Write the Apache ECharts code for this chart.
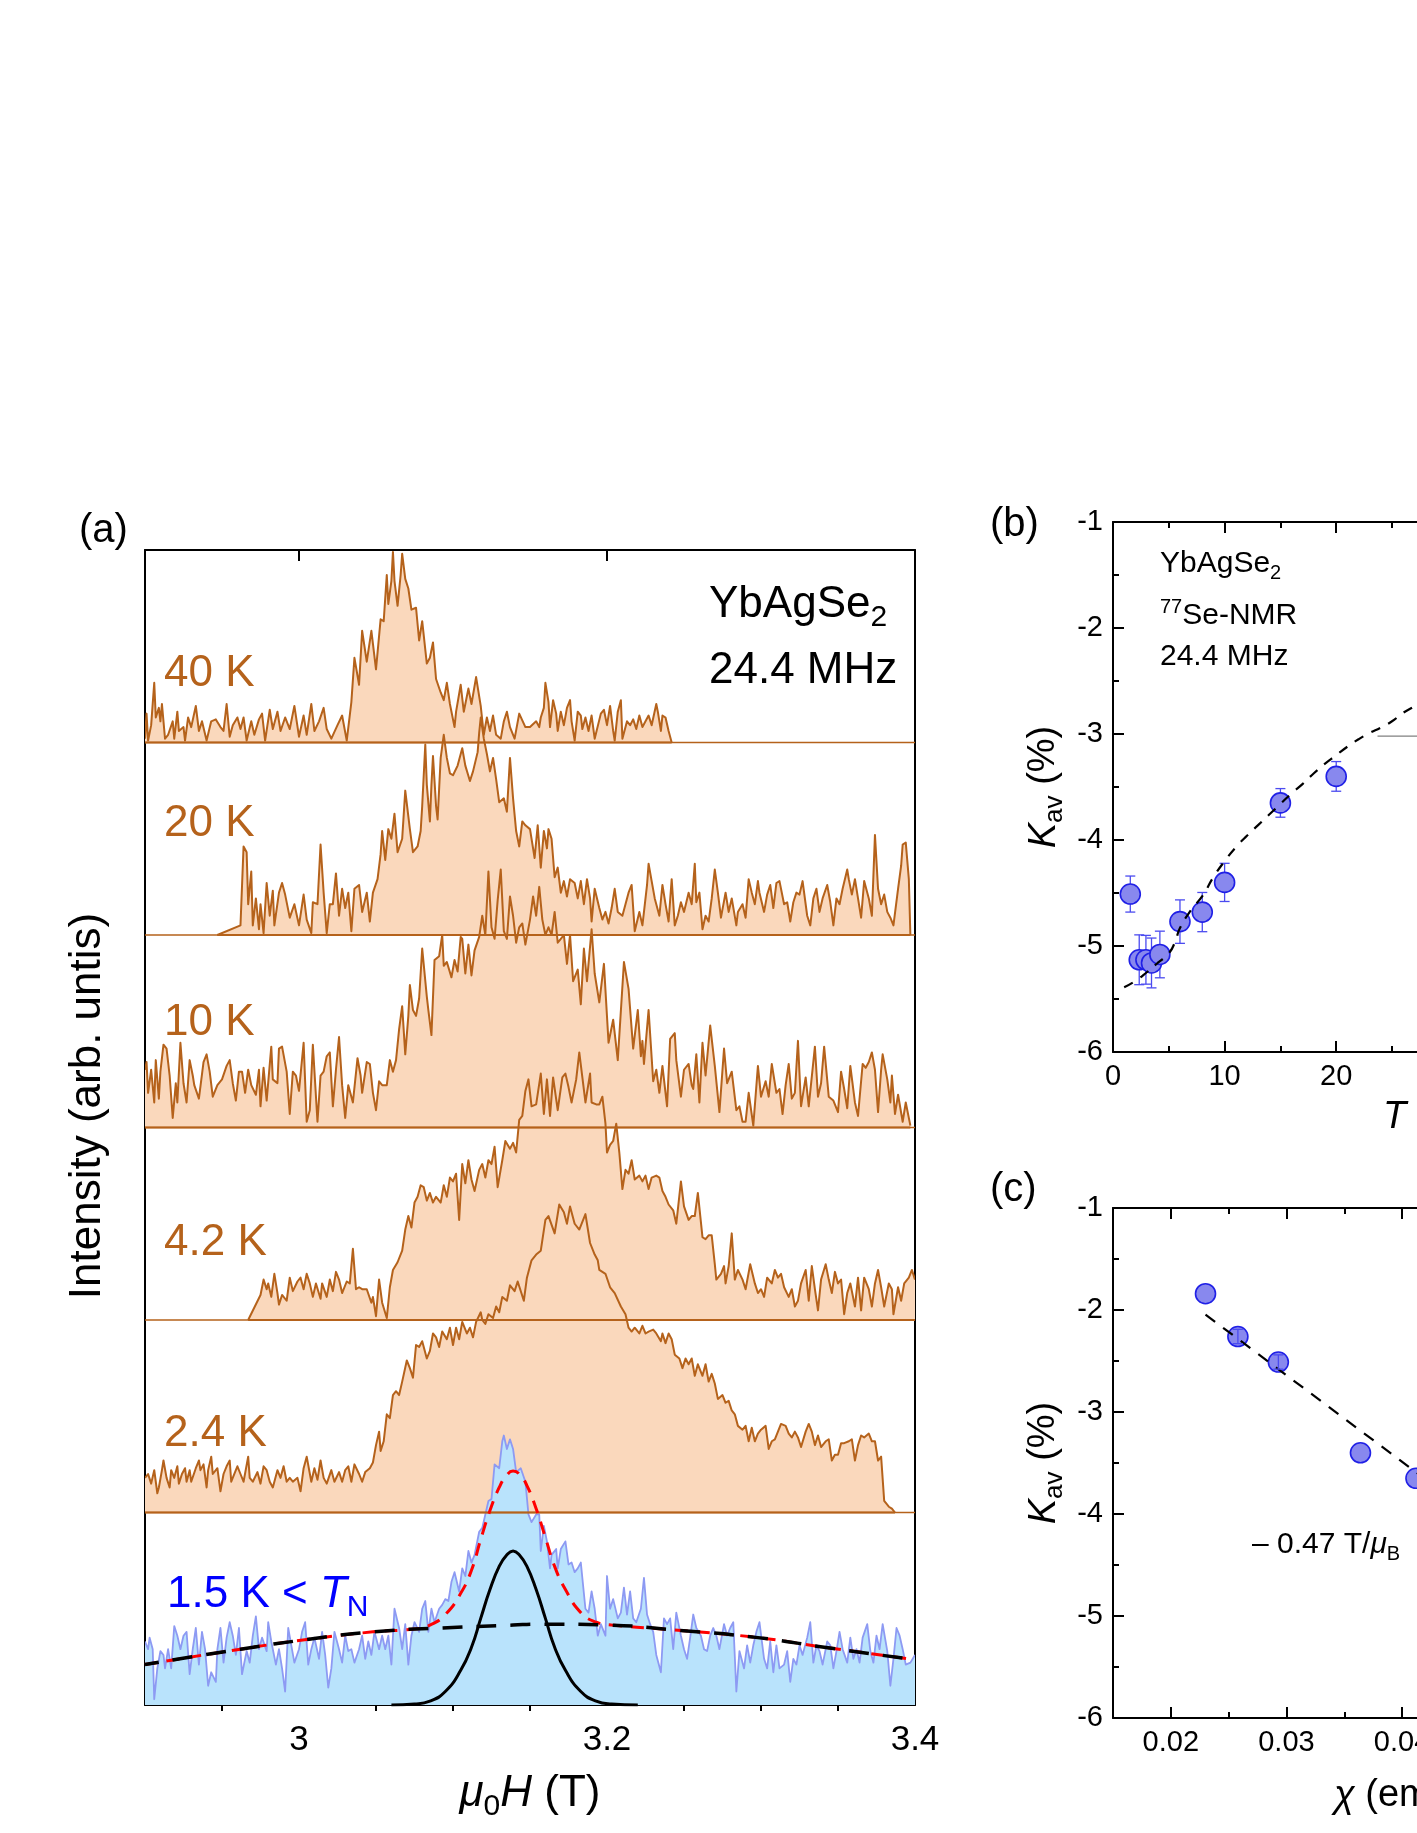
<!DOCTYPE html>
<html><head><meta charset="utf-8">
<script src="https://cdn.jsdelivr.net/npm/echarts@6/dist/echarts.min.js"></script>
<style>html,body{margin:0;padding:0;background:#fff}#c{width:1417px;height:1833px}</style>
</head><body><div id="c"></div><script>
// ---------------- Panel (a): 77Se-NMR spectra, [field (T), intensity (arb. u., band = 100)] ----------------
const spec40K = [[2.900,2],[2.901,15],[2.902,1],[2.904,9],[2.906,31],[2.907,13],[2.909,18],[2.910,11],[2.911,20],[2.913,2],[2.915,4],[2.918,11],[2.919,2],[2.921,16],[2.922,6],[2.925,8],[2.926,1],[2.928,13],[2.930,8],[2.933,19],[2.935,6],[2.937,11],[2.940,1],[2.943,11],[2.946,12],[2.949,8],[2.951,6],[2.953,20],[2.955,3],[2.957,9],[2.960,13],[2.962,7],[2.964,13],[2.966,1],[2.969,11],[2.971,4],[2.974,12],[2.976,15],[2.978,1],[2.981,17],[2.983,7],[2.986,16],[2.988,6],[2.991,13],[2.994,7],[2.997,19],[3.000,3],[3.003,14],[3.005,4],[3.008,20],[3.010,6],[3.013,11],[3.016,18],[3.018,7],[3.021,2],[3.025,9],[3.028,14],[3.031,1],[3.034,21],[3.036,44],[3.039,30],[3.041,58],[3.044,42],[3.047,58],[3.050,38],[3.053,64],[3.055,63],[3.057,87],[3.058,72],[3.060,84],[3.061,99],[3.062,84],[3.064,71],[3.066,87],[3.067,98],[3.069,85],[3.071,80],[3.073,69],[3.076,70],[3.078,53],[3.080,63],[3.083,41],[3.085,44],[3.087,52],[3.089,33],[3.092,26],[3.094,22],[3.096,31],[3.098,20],[3.101,8],[3.102,16],[3.105,30],[3.107,16],[3.110,28],[3.112,20],[3.115,34],[3.118,19],[3.120,4],[3.122,13],[3.124,6],[3.126,14],[3.128,4],[3.131,2],[3.133,11],[3.135,16],[3.137,8],[3.140,2],[3.143,15],[3.147,8],[3.150,8],[3.154,11],[3.156,8],[3.157,13],[3.159,18],[3.160,31],[3.162,21],[3.163,8],[3.165,22],[3.167,15],[3.168,6],[3.170,16],[3.172,9],[3.174,18],[3.176,22],[3.177,11],[3.179,1],[3.181,16],[3.183,14],[3.184,7],[3.186,13],[3.188,6],[3.190,14],[3.192,2],[3.196,15],[3.198,17],[3.200,9],[3.202,19],[3.204,6],[3.205,1],[3.207,16],[3.209,22],[3.210,2],[3.213,11],[3.215,9],[3.217,12],[3.219,7],[3.221,14],[3.223,8],[3.225,11],[3.227,14],[3.229,9],[3.232,20],[3.233,16],[3.235,6],[3.236,14],[3.238,13],[3.240,6],[3.242,0]];

const spec20K = [[2.947,0],[2.962,5],[2.964,46],[2.966,43],[2.967,16],[2.969,33],[2.970,5],[2.972,19],[2.974,3],[2.975,16],[2.977,1],[2.979,27],[2.981,10],[2.983,23],[2.984,5],[2.987,22],[2.989,27],[2.991,21],[2.994,9],[2.997,16],[3.000,5],[3.003,21],[3.005,8],[3.008,1],[3.009,17],[3.012,16],[3.014,47],[3.016,22],[3.018,1],[3.020,16],[3.022,16],[3.024,32],[3.026,10],[3.028,24],[3.030,14],[3.032,22],[3.034,2],[3.036,24],[3.039,26],[3.041,12],[3.044,22],[3.046,7],[3.048,22],[3.051,29],[3.053,42],[3.054,54],[3.056,39],[3.058,55],[3.060,50],[3.062,63],[3.064,43],[3.067,50],[3.069,75],[3.072,55],[3.074,43],[3.077,46],[3.079,54],[3.080,67],[3.082,99],[3.083,78],[3.085,59],[3.086,78],[3.087,93],[3.089,67],[3.090,60],[3.092,92],[3.094,104],[3.096,92],[3.098,84],[3.100,83],[3.103,88],[3.106,97],[3.108,88],[3.111,80],[3.113,85],[3.116,95],[3.117,105],[3.118,113],[3.120,102],[3.122,94],[3.124,85],[3.126,92],[3.128,81],[3.130,69],[3.133,71],[3.135,64],[3.137,92],[3.139,71],[3.141,54],[3.143,46],[3.145,59],[3.147,57],[3.150,55],[3.153,40],[3.155,57],[3.157,35],[3.159,54],[3.161,45],[3.162,55],[3.164,50],[3.166,30],[3.168,35],[3.170,22],[3.172,28],[3.174,20],[3.176,29],[3.179,27],[3.181,19],[3.183,28],[3.185,16],[3.187,29],[3.189,19],[3.190,7],[3.192,24],[3.195,14],[3.197,8],[3.199,12],[3.201,6],[3.203,14],[3.205,24],[3.207,12],[3.210,10],[3.212,16],[3.214,22],[3.216,26],[3.218,2],[3.221,12],[3.223,5],[3.224,12],[3.226,26],[3.227,37],[3.229,28],[3.231,19],[3.234,10],[3.236,26],[3.238,16],[3.240,7],[3.242,29],[3.244,5],[3.246,10],[3.248,17],[3.250,12],[3.253,22],[3.255,16],[3.257,37],[3.258,17],[3.260,22],[3.262,3],[3.264,10],[3.266,7],[3.268,19],[3.270,34],[3.272,22],[3.274,9],[3.277,22],[3.279,12],[3.281,19],[3.284,5],[3.285,12],[3.288,16],[3.290,9],[3.292,29],[3.294,22],[3.296,16],[3.298,28],[3.299,22],[3.302,12],[3.304,21],[3.306,26],[3.308,14],[3.310,27],[3.312,28],[3.315,16],[3.317,17],[3.319,7],[3.321,17],[3.323,22],[3.325,21],[3.327,28],[3.330,10],[3.332,5],[3.334,19],[3.336,24],[3.338,12],[3.340,19],[3.343,26],[3.345,17],[3.347,5],[3.349,19],[3.351,16],[3.353,24],[3.356,34],[3.357,29],[3.359,21],[3.361,29],[3.363,19],[3.365,9],[3.367,28],[3.370,19],[3.372,10],[3.374,52],[3.376,24],[3.378,16],[3.380,21],[3.382,12],[3.384,9],[3.386,5],[3.389,24],[3.391,36],[3.392,47],[3.394,48],[3.396,29],[3.397,0]];

const spec10K = [[2.900,30],[2.901,34],[2.902,18],[2.904,30],[2.906,13],[2.907,35],[2.909,15],[2.910,29],[2.912,43],[2.914,41],[2.916,27],[2.918,5],[2.920,23],[2.921,13],[2.923,44],[2.925,23],[2.927,13],[2.929,35],[2.931,27],[2.932,22],[2.935,15],[2.938,34],[2.940,38],[2.942,29],[2.944,16],[2.947,22],[2.950,25],[2.953,32],[2.955,35],[2.957,23],[2.959,14],[2.961,29],[2.963,29],[2.965,18],[2.967,30],[2.969,22],[2.972,17],[2.974,30],[2.975,11],[2.977,31],[2.979,14],[2.982,42],[2.983,25],[2.986,23],[2.987,41],[2.989,42],[2.992,29],[2.994,7],[2.996,29],[2.998,27],[3.000,19],[3.003,44],[3.005,3],[3.007,9],[3.009,43],[3.012,3],[3.014,27],[3.016,29],[3.018,37],[3.020,39],[3.022,11],[3.024,30],[3.026,47],[3.028,22],[3.030,5],[3.032,22],[3.035,13],[3.038,36],[3.040,27],[3.041,18],[3.044,34],[3.046,33],[3.048,18],[3.050,9],[3.052,24],[3.054,22],[3.057,22],[3.059,35],[3.061,29],[3.063,35],[3.065,51],[3.067,63],[3.069,38],[3.071,58],[3.072,74],[3.074,61],[3.076,58],[3.078,67],[3.080,93],[3.083,68],[3.084,61],[3.086,48],[3.088,87],[3.091,89],[3.093,100],[3.094,84],[3.096,86],[3.099,78],[3.101,87],[3.103,81],[3.105,99],[3.106,98],[3.108,80],[3.110,95],[3.112,79],[3.114,92],[3.117,99],[3.119,110],[3.121,100],[3.123,133],[3.125,104],[3.127,98],[3.129,118],[3.131,134],[3.133,102],[3.135,98],[3.137,120],[3.139,110],[3.141,96],[3.143,104],[3.145,106],[3.147,95],[3.150,108],[3.152,120],[3.154,110],[3.156,125],[3.158,108],[3.160,100],[3.162,104],[3.164,100],[3.166,112],[3.168,96],[3.170,98],[3.172,100],[3.174,85],[3.176,100],[3.178,76],[3.181,82],[3.183,64],[3.185,93],[3.187,76],[3.190,103],[3.192,80],[3.195,65],[3.198,85],[3.201,44],[3.204,56],[3.207,35],[3.211,86],[3.214,72],[3.217,41],[3.220,61],[3.222,37],[3.223,45],[3.224,33],[3.227,61],[3.230,24],[3.232,30],[3.234,18],[3.236,32],[3.239,11],[3.241,46],[3.244,49],[3.245,35],[3.248,16],[3.250,30],[3.253,33],[3.255,22],[3.256,20],[3.258,38],[3.260,13],[3.262,44],[3.264,27],[3.267,53],[3.270,32],[3.273,8],[3.276,41],[3.278,23],[3.281,29],[3.284,9],[3.286,11],[3.288,3],[3.290,3],[3.292,18],[3.295,1],[3.298,32],[3.300,16],[3.303,24],[3.305,16],[3.307,33],[3.310,18],[3.312,20],[3.314,7],[3.316,22],[3.318,33],[3.320,15],[3.322,18],[3.324,45],[3.326,11],[3.329,26],[3.331,11],[3.335,42],[3.337,16],[3.339,23],[3.341,42],[3.344,16],[3.347,14],[3.350,8],[3.352,29],[3.354,20],[3.356,10],[3.358,32],[3.361,13],[3.363,6],[3.366,33],[3.368,31],[3.370,34],[3.372,39],[3.374,30],[3.376,8],[3.378,30],[3.379,38],[3.382,25],[3.384,13],[3.385,27],[3.387,7],[3.389,17],[3.392,3],[3.394,13],[3.397,1]];

const spec4p2K = [[2.967,0],[2.975,13],[2.977,21],[2.979,16],[2.980,19],[2.982,12],[2.984,24],[2.986,14],[2.987,8],[2.989,13],[2.992,10],[2.994,22],[2.996,15],[2.999,20],[3.001,22],[3.003,16],[3.005,24],[3.007,19],[3.009,12],[3.011,19],[3.014,11],[3.015,19],[3.018,12],[3.020,21],[3.022,15],[3.024,25],[3.026,21],[3.028,14],[3.031,20],[3.033,19],[3.035,37],[3.037,16],[3.039,17],[3.041,16],[3.044,16],[3.047,9],[3.048,12],[3.050,2],[3.052,21],[3.054,9],[3.057,1],[3.059,17],[3.061,26],[3.064,30],[3.067,36],[3.069,47],[3.071,54],[3.073,48],[3.075,61],[3.077,64],[3.079,70],[3.081,69],[3.083,62],[3.085,66],[3.087,61],[3.089,64],[3.092,61],[3.094,70],[3.096,64],[3.098,74],[3.100,72],[3.102,76],[3.104,52],[3.106,81],[3.108,71],[3.110,83],[3.112,73],[3.114,67],[3.117,78],[3.119,81],[3.121,74],[3.123,83],[3.125,81],[3.127,90],[3.129,69],[3.132,83],[3.134,93],[3.137,89],[3.139,92],[3.141,87],[3.143,104],[3.145,106],[3.147,119],[3.149,125],[3.151,111],[3.154,112],[3.157,128],[3.159,107],[3.161,125],[3.163,106],[3.165,126],[3.168,109],[3.171,126],[3.173,128],[3.175,121],[3.177,113],[3.180,125],[3.182,139],[3.184,126],[3.186,113],[3.189,128],[3.190,113],[3.193,112],[3.195,112],[3.197,116],[3.199,102],[3.200,87],[3.202,91],[3.204,93],[3.206,102],[3.208,87],[3.210,68],[3.212,78],[3.214,76],[3.216,83],[3.218,73],[3.221,75],[3.223,72],[3.225,75],[3.227,68],[3.229,74],[3.232,75],[3.234,74],[3.236,67],[3.238,64],[3.240,60],[3.243,57],[3.245,50],[3.248,72],[3.250,59],[3.253,52],[3.255,54],[3.257,54],[3.259,66],[3.262,43],[3.264,42],[3.266,44],[3.268,44],[3.270,29],[3.271,21],[3.274,24],[3.276,28],[3.277,19],[3.279,28],[3.281,45],[3.283,21],[3.285,26],[3.288,21],[3.290,16],[3.293,29],[3.296,19],[3.298,14],[3.300,16],[3.302,12],[3.304,22],[3.307,19],[3.309,26],[3.311,22],[3.313,24],[3.315,17],[3.318,12],[3.320,16],[3.322,7],[3.324,10],[3.326,19],[3.329,26],[3.331,10],[3.333,28],[3.335,16],[3.337,5],[3.339,21],[3.342,29],[3.344,21],[3.346,14],[3.348,25],[3.350,19],[3.352,21],[3.354,3],[3.356,14],[3.358,19],[3.361,7],[3.363,22],[3.365,5],[3.367,22],[3.370,16],[3.372,7],[3.374,19],[3.376,26],[3.378,17],[3.380,7],[3.383,19],[3.385,16],[3.386,3],[3.389,17],[3.391,10],[3.393,19],[3.396,22],[3.398,26],[3.400,21]];

const spec2p4K = [[2.900,18],[2.902,20],[2.904,15],[2.906,22],[2.908,10],[2.909,13],[2.911,22],[2.912,27],[2.914,18],[2.916,13],[2.917,22],[2.919,18],[2.921,24],[2.922,15],[2.924,20],[2.926,23],[2.927,16],[2.929,22],[2.930,16],[2.933,23],[2.935,27],[2.936,22],[2.938,25],[2.940,13],[2.941,22],[2.943,29],[2.944,20],[2.947,23],[2.949,11],[2.951,20],[2.953,24],[2.955,27],[2.956,16],[2.959,22],[2.960,24],[2.962,20],[2.964,16],[2.967,29],[2.968,18],[2.970,16],[2.973,21],[2.975,15],[2.977,24],[2.979,22],[2.981,16],[2.983,13],[2.986,22],[2.988,18],[2.990,24],[2.992,16],[2.994,18],[2.996,16],[2.999,18],[3.001,11],[3.003,23],[3.005,29],[3.008,16],[3.010,23],[3.012,17],[3.014,27],[3.016,18],[3.018,15],[3.021,22],[3.023,16],[3.026,21],[3.028,16],[3.030,22],[3.032,24],[3.034,16],[3.036,25],[3.039,20],[3.041,16],[3.043,21],[3.046,23],[3.048,26],[3.050,35],[3.052,42],[3.053,32],[3.055,37],[3.057,51],[3.059,49],[3.061,61],[3.063,63],[3.065,61],[3.067,68],[3.070,79],[3.072,75],[3.074,70],[3.076,87],[3.078,86],[3.080,89],[3.083,80],[3.085,84],[3.087,93],[3.089,91],[3.091,86],[3.093,94],[3.096,90],[3.098,96],[3.100,87],[3.102,96],[3.104,90],[3.106,99],[3.109,93],[3.111,96],[3.113,91],[3.115,99],[3.118,104],[3.119,100],[3.121,98],[3.123,103],[3.126,101],[3.128,107],[3.130,104],[3.132,112],[3.135,110],[3.137,118],[3.140,115],[3.142,120],[3.146,110],[3.148,122],[3.151,131],[3.154,134],[3.157,136],[3.160,152],[3.162,154],[3.166,145],[3.169,160],[3.172,156],[3.174,150],[3.176,159],[3.179,150],[3.182,147],[3.186,155],[3.189,140],[3.192,134],[3.194,131],[3.195,126],[3.199,124],[3.202,117],[3.205,114],[3.209,107],[3.212,103],[3.214,96],[3.216,94],[3.218,96],[3.221,93],[3.223,97],[3.225,93],[3.227,94],[3.230,95],[3.232,93],[3.235,89],[3.236,93],[3.238,88],[3.240,93],[3.242,90],[3.244,82],[3.247,80],[3.249,75],[3.251,80],[3.253,77],[3.255,80],[3.257,71],[3.259,77],[3.262,71],[3.264,77],[3.266,68],[3.268,72],[3.270,67],[3.272,59],[3.275,61],[3.277,57],[3.279,58],[3.281,53],[3.283,51],[3.285,45],[3.288,43],[3.290,45],[3.292,37],[3.294,44],[3.296,37],[3.298,41],[3.300,43],[3.303,45],[3.305,33],[3.307,37],[3.309,38],[3.311,42],[3.313,46],[3.316,45],[3.318,41],[3.320,39],[3.322,42],[3.324,39],[3.326,34],[3.329,42],[3.331,46],[3.333,42],[3.335,35],[3.337,40],[3.339,34],[3.342,37],[3.344,38],[3.346,27],[3.348,30],[3.350,30],[3.352,36],[3.354,36],[3.357,37],[3.359,38],[3.361,27],[3.363,35],[3.365,40],[3.367,39],[3.370,41],[3.372,37],[3.374,37],[3.376,27],[3.378,29],[3.380,6],[3.383,3],[3.385,2],[3.387,0]];

const spec1p5K = [[2.900,33],[2.902,29],[2.903,35],[2.905,29],[2.906,3],[2.908,19],[2.910,28],[2.912,26],[2.913,19],[2.915,29],[2.917,19],[2.919,41],[2.921,36],[2.923,29],[2.925,36],[2.927,38],[2.929,16],[2.931,29],[2.933,40],[2.935,21],[2.937,38],[2.939,29],[2.941,10],[2.943,17],[2.946,12],[2.947,29],[2.949,40],[2.951,22],[2.953,35],[2.955,43],[2.957,36],[2.959,26],[2.961,40],[2.963,16],[2.966,28],[2.968,22],[2.970,36],[2.972,46],[2.974,29],[2.976,35],[2.979,28],[2.980,43],[2.982,33],[2.985,21],[2.987,29],[2.989,19],[2.991,7],[2.993,40],[2.995,31],[2.997,22],[3.000,29],[3.002,38],[3.004,43],[3.006,21],[3.008,29],[3.010,35],[3.013,24],[3.015,38],[3.017,26],[3.019,9],[3.021,19],[3.023,38],[3.026,29],[3.028,22],[3.030,36],[3.032,28],[3.034,29],[3.036,22],[3.039,29],[3.041,36],[3.043,24],[3.045,33],[3.047,26],[3.049,38],[3.052,29],[3.054,36],[3.056,29],[3.058,36],[3.060,21],[3.062,50],[3.065,40],[3.067,29],[3.069,42],[3.071,21],[3.073,36],[3.075,43],[3.078,38],[3.080,50],[3.082,54],[3.084,38],[3.086,50],[3.088,43],[3.091,50],[3.093,52],[3.095,55],[3.097,54],[3.099,64],[3.101,69],[3.104,59],[3.106,71],[3.108,67],[3.110,80],[3.112,74],[3.114,78],[3.117,90],[3.119,92],[3.121,99],[3.123,106],[3.125,107],[3.127,125],[3.130,123],[3.132,137],[3.133,140],[3.135,133],[3.137,138],[3.139,133],[3.141,121],[3.144,123],[3.147,116],[3.149,99],[3.151,95],[3.154,99],[3.156,99],[3.157,80],[3.159,93],[3.161,85],[3.163,71],[3.164,78],[3.167,81],[3.168,71],[3.170,81],[3.173,85],[3.175,73],[3.177,74],[3.179,69],[3.181,71],[3.183,74],[3.186,50],[3.188,48],[3.190,59],[3.192,50],[3.194,36],[3.196,42],[3.199,36],[3.200,67],[3.202,50],[3.204,55],[3.207,45],[3.209,48],[3.211,61],[3.213,47],[3.215,59],[3.217,45],[3.219,43],[3.222,50],[3.224,66],[3.226,47],[3.228,42],[3.230,38],[3.232,26],[3.235,17],[3.237,45],[3.239,42],[3.241,45],[3.243,29],[3.245,48],[3.248,36],[3.250,29],[3.252,24],[3.254,35],[3.256,47],[3.258,40],[3.261,36],[3.263,29],[3.265,28],[3.267,36],[3.269,40],[3.271,36],[3.273,29],[3.276,42],[3.278,36],[3.280,40],[3.282,43],[3.284,7],[3.286,28],[3.289,19],[3.291,31],[3.293,22],[3.295,31],[3.297,38],[3.299,43],[3.302,24],[3.304,19],[3.306,33],[3.308,17],[3.310,31],[3.312,19],[3.315,21],[3.317,28],[3.319,12],[3.321,24],[3.323,21],[3.325,31],[3.327,26],[3.330,35],[3.332,43],[3.334,22],[3.336,31],[3.338,28],[3.340,21],[3.343,33],[3.345,31],[3.347,19],[3.349,28],[3.351,38],[3.353,29],[3.356,22],[3.358,35],[3.360,24],[3.362,29],[3.364,22],[3.366,35],[3.369,42],[3.371,28],[3.373,22],[3.375,36],[3.377,29],[3.379,42],[3.382,28],[3.384,10],[3.386,24],[3.388,40],[3.390,36],[3.392,29],[3.394,21],[3.397,22],[3.400,26]];

// fit curves on the 1.5 K spectrum
const fitNarrow = [[3.060,0],[3.075,0.5],[3.085,2],[3.095,7],[3.105,18],[3.112,30],[3.118,45],[3.124,60],[3.130,72],[3.135,78],[3.139,80],[3.143,78],[3.148,72],[3.154,60],[3.160,45],[3.166,30],[3.173,18],[3.183,7],[3.193,2],[3.203,0.5],[3.220,0]];
const fitBroad = [[2.900,21],[2.962,29],[3.005,34],[3.048,38],[3.092,40],[3.139,41.5],[3.154,42],[3.201,41.5],[3.244,39],[3.298,35],[3.341,30],[3.400,23.5]];
const fitSum = [[2.900,21],[2.962,29],[3.005,34],[3.048,38],[3.075,39.5],[3.085,41.5],[3.095,47],[3.105,58],[3.112,70],[3.118,86],[3.124,101],[3.130,113],[3.135,119.5],[3.139,121.5],[3.143,120],[3.148,114],[3.154,102],[3.160,87],[3.166,72],[3.173,60],[3.183,48],[3.193,43],[3.203,41.5],[3.244,39],[3.298,35],[3.341,30],[3.400,23.5]];

const spectraLabels = ['40 K','20 K','10 K','4.2 K','2.4 K'];
const bandOffsets = [500, 400, 300, 200, 100, 0];
const xTicksA = [3.0, 3.2, 3.4];
const xMinorA = [2.95, 3.05, 3.1, 3.15, 3.25, 3.3, 3.35];

// ---------------- Panel (b): K_av vs T ----------------
const tempB = [1.55, 2.35, 2.95, 3.45, 4.2, 6.0, 8.0, 10.0, 15.0, 20.0];
const kavB  = [-4.51, -5.13, -5.13, -5.16, -5.08, -4.77, -4.68, -4.40, -3.65, -3.40];
const errB  = [0.17, 0.235, 0.23, 0.235, 0.22, 0.205, 0.185, 0.18, 0.135, 0.14];
const fitB  = [[1.0,-5.39],[2,-5.33],[3,-5.25],[4,-5.16],[5,-5.07],[5.6,-4.95],[6,-4.83],[7,-4.66],[8,-4.53],[9,-4.35],[10,-4.2],[11,-4.07],[12,-3.96],[13,-3.86],[14,-3.76],[15,-3.66],[16,-3.56],[17,-3.47],[18,-3.37],[19,-3.28],[20,-3.2],[21,-3.12],[22,-3.05],[23,-2.99],[24,-2.94],[25,-2.88],[26,-2.8],[27,-2.74],[28,-2.68]];
const refLineB = [[23.7,-3.02],[40,-3.02]];

// ---------------- Panel (c): K_av vs chi ----------------
const chiC = [0.0230, 0.0258, 0.0293, 0.0364, 0.0412];
const kavC = [-1.84, -2.26, -2.51, -3.40, -3.65];
const errC = [0, 0.07, 0.07, 0, 0];
const fitC = [[0.0230,-2.045],[0.0412,-3.59],[0.0500,-4.34]];
const xTicksC = [0.02, 0.03, 0.04, 0.05, 0.06, 0.07];
const xMinorC = [0.025, 0.035, 0.045, 0.055, 0.065];

// ---------------- styling ----------------
const FONT = '"Liberation Sans", Arial, Helvetica, sans-serif';
const BROWN = '#b5621b', PEACH = '#fad8bc', BLUE_FILL = '#b9e3fc', BLUE_LINE = '#8d9af3';
const BLACK = '#000';

const chart = echarts.init(document.getElementById('c'), null, {renderer:'canvas', width:1417, height:1833});

function xAx(grid, pos, min, max, o) {
  return Object.assign({
    type:'value', gridIndex:grid, position:pos, min, max,
    axisLine:{show:true, onZero:false, lineStyle:{color:BLACK, width:2}},
    axisTick:{show:true, inside:true, length:11, lineStyle:{color:BLACK, width:2}},
    axisLabel:{show:false}, splitLine:{show:false}
  }, o);
}
const fmt2 = v => String(+(+v).toFixed(3));
const labA = {show:true, fontSize:35, fontFamily:FONT, color:BLACK, margin:18, formatter:fmt2};
const labBC = {show:true, fontSize:29, fontFamily:FONT, color:BLACK, margin:10, formatter:fmt2};
const tk = (len, vals) => ({show:true, inside:true, length:len, customValues:vals, lineStyle:{color:BLACK, width:2}});

const xAxis = [
  xAx(0,'bottom',2.9,3.4,{axisTick:tk(11,xTicksA), axisLabel:Object.assign({customValues:xTicksA}, labA)}),
  xAx(0,'bottom',2.9,3.4,{axisLine:{show:false}, axisTick:tk(6,xMinorA)}),
  xAx(0,'top',2.9,3.4,{axisTick:tk(11,xTicksA)}),
  xAx(0,'top',2.9,3.4,{axisLine:{show:false}, axisTick:tk(6,xMinorA)}),
  xAx(1,'bottom',0,56,{interval:10, minorTick:{show:true,splitNumber:2,length:6,lineStyle:{color:BLACK,width:2}}, axisLabel:labBC}),
  xAx(1,'top',0,56,{interval:10, minorTick:{show:true,splitNumber:2,length:6,lineStyle:{color:BLACK,width:2}}}),
  xAx(2,'bottom',0.015,0.07,{axisTick:tk(11,xTicksC), axisLabel:Object.assign({customValues:xTicksC}, labBC)}),
  xAx(2,'bottom',0.015,0.07,{axisLine:{show:false}, axisTick:tk(6,xMinorC)}),
  xAx(2,'top',0.015,0.07,{axisTick:tk(11,xTicksC)}),
  xAx(2,'top',0.015,0.07,{axisLine:{show:false}, axisTick:tk(6,xMinorC)})
];
function yAx(grid, pos, min, max, o) {
  return Object.assign({
    type:'value', gridIndex:grid, position:pos, min, max,
    axisLine:{show:true, onZero:false, lineStyle:{color:BLACK, width:2}},
    axisTick:{show:false}, axisLabel:{show:false}, splitLine:{show:false}
  }, o);
}
const yTickBC = {interval:1, axisTick:{show:true,inside:true,length:11,lineStyle:{color:BLACK,width:2}}, minorTick:{show:true,splitNumber:2,length:6,lineStyle:{color:BLACK,width:2}}, axisLabel:labBC};
const yAxis = [
  yAx(0,'left',0,600),
  yAx(0,'right',0,600),
  yAx(1,'left',-6,-1,yTickBC),
  yAx(2,'left',-6,-1,yTickBC)
];

// ---- series for panel (a): each spectrum is a filled polygon drawn through the axis scales ----
function spectrumSeries(spec, off, lineColor, fillColor, lw) {
  return {type:'custom', xAxisIndex:0, yAxisIndex:0, silent:true, clip:true,
    encode:{x:0, y:1}, data:[[spec[0][0], off]],
    renderItem:function(params, api){
      const pts = spec.map(p => api.coord([p[0], p[1] + off]));
      const b0 = api.coord([spec[0][0], off]);
      const b1 = api.coord([spec[spec.length - 1][0], off]);
      return {type:'group', children:[
        {type:'polygon', shape:{points:[b0].concat(pts, [b1])}, style:{fill:fillColor, stroke:null, lineWidth:0}},
        {type:'polyline', shape:{points:pts}, style:{stroke:lineColor, lineWidth:lw, fill:null, lineJoin:'round'}}
      ]};
    }};
}
const series = [];
const spectra = [spec40K, spec20K, spec10K, spec4p2K, spec2p4K, spec1p5K];
spectra.forEach((spec, i) => {
  const off = bandOffsets[i];
  const blue = off === 0;
  series.push(spectrumSeries(spec, off, blue ? BLUE_LINE : BROWN, blue ? BLUE_FILL : PEACH, blue ? 1.8 : 2));
  if (!blue) {
    series.push({type:'line', xAxisIndex:0, yAxisIndex:0, data:[[2.9,off],[3.4,off]], symbol:'none', silent:true,
      lineStyle:{color:BROWN, width:1.3}});
    series.push({type:'line', xAxisIndex:0, yAxisIndex:0, data:[[spec[0][0],off],[spec[spec.length-1][0],off]], symbol:'none', silent:true,
      lineStyle:{color:BROWN, width:2.2}});
  }
});
series.push({type:'line', xAxisIndex:0, yAxisIndex:0, data:fitSum, symbol:'none', smooth:true, silent:true,
  lineStyle:{color:'#ff0000', width:3, type:[13,9]}});
series.push({type:'line', xAxisIndex:0, yAxisIndex:0, data:fitBroad, symbol:'none', smooth:true, silent:true,
  lineStyle:{color:BLACK, width:3.5, type:[20,14], dashOffset:6}});
series.push({type:'line', xAxisIndex:0, yAxisIndex:0, data:fitNarrow, symbol:'none', smooth:true, silent:true,
  lineStyle:{color:BLACK, width:3}});

// ---- panels (b) and (c) ----
function errRender(params, api) {
  const x = api.value(0), y = api.value(1), e = api.value(2);
  if (!e) return null;
  const t = api.coord([x, y + e]), b = api.coord([x, y - e]);
  const w = 5, st = {stroke:'#4b4bf0', lineWidth:1.3};
  return {type:'group', children:[
    {type:'line', shape:{x1:t[0], y1:t[1], x2:b[0], y2:b[1]}, style:st},
    {type:'line', shape:{x1:t[0]-w, y1:t[1], x2:t[0]+w, y2:t[1]}, style:st},
    {type:'line', shape:{x1:b[0]-w, y1:b[1], x2:b[0]+w, y2:b[1]}, style:st}
  ]};
}
const markerStyle = {color:'#8888ee', borderColor:'#2020e6', borderWidth:1.6, opacity:1};

series.push({type:'line', xAxisIndex:4, yAxisIndex:2, data:fitB, symbol:'none', smooth:true, silent:true,
  lineStyle:{color:BLACK, width:2.2, type:[10,9]}});
series.push({type:'line', xAxisIndex:4, yAxisIndex:2, data:refLineB, symbol:'none', silent:true,
  lineStyle:{color:'#808080', width:1.2}});
series.push({type:'custom', xAxisIndex:4, yAxisIndex:2, renderItem:errRender, silent:true,
  encode:{x:0, y:1}, data:tempB.map((t,i) => [t, kavB[i], errB[i]])});
series.push({type:'scatter', xAxisIndex:4, yAxisIndex:2, symbol:'circle', symbolSize:20, silent:true,
  itemStyle:markerStyle, data:tempB.map((t,i) => [t, kavB[i]])});

series.push({type:'line', xAxisIndex:6, yAxisIndex:3, data:fitC, symbol:'none', silent:true,
  lineStyle:{color:BLACK, width:2.2, type:[12,10]}});
series.push({type:'scatter', xAxisIndex:6, yAxisIndex:3, symbol:'circle', symbolSize:20, silent:true,
  itemStyle:markerStyle, data:chiC.map((c,i) => [c, kavC[i]])});
series.push({type:'custom', xAxisIndex:6, yAxisIndex:3, renderItem:errRender, silent:true, z:5,
  encode:{x:0, y:1}, data:chiC.map((c,i) => [c, kavC[i], errC[i]])});

// ---- text ----
function rt(size, color, extra) {
  return Object.assign({fontSize:size, fontFamily:FONT, fill:color, lineHeight:Math.round(size*1.25)}, extra);
}
function sub(size, color) { const s = Math.round(size*0.68); return {fontSize:s, fontFamily:FONT, fill:color, lineHeight:s, verticalAlign:'bottom'}; }
function sup(size, color) { const s = Math.round(size*0.68); return {fontSize:s, fontFamily:FONT, fill:color, lineHeight:s, verticalAlign:'top'}; }
function txt(x, y, text, size, color, opts) {
  opts = opts || {};
  const c = color || BLACK;
  return {type:'text', x, y, rotation:opts.rot || 0, silent:true, z:100,
    style:{text, fontSize:size, fontFamily:FONT, fill:c,
      align:opts.align || 'left', verticalAlign:'middle', textAlign:opts.align || 'left', textVerticalAlign:'middle',
      rich:{m:rt(size,c), i:rt(size,c,{fontStyle:'italic'}), s:sub(size,c), p:sup(size,c)}}};
}
const yLabelY = [674, 824, 1023, 1243, 1434];
const graphics = [
  txt(79, 531, '{m|(a)}', 40),
  txt(990, 525, '{m|(b)}', 40),
  txt(990, 1190, '{m|(c)}', 40),
  txt(709, 605, '{m|YbAgSe}{s|2}', 44),
  txt(709, 671, '{m|24.4 MHz}', 44),
  txt(167, 1595, '{m|1.5 K < }{i|T}{s|N}', 44, '#0000ff'),
  txt(88, 1106, '{m|Intensity (arb. untis)}', 44, BLACK, {rot:Math.PI/2, align:'center'}),
  txt(530, 1794, '{i|μ}{s|0}{i|H}{m| (T)}', 44, BLACK, {align:'center'}),
  txt(1160, 564, '{m|YbAgSe}{s|2}', 30),
  txt(1160, 616, '{p|77}{m|Se-NMR}', 30),
  txt(1160, 657, '{m|24.4 MHz}', 30),
  txt(1044, 787, '{i|K}{s|av}{m| (%)}', 38, BLACK, {rot:Math.PI/2, align:'center'}),
  txt(1044, 1463, '{i|K}{s|av}{m| (%)}', 38, BLACK, {rot:Math.PI/2, align:'center'}),
  txt(1383, 1117, '{i|T}{m| (K)}', 38),
  txt(1334, 1796, '{i|χ}{m| (emu/mol)}', 38),
  txt(1252, 1545, '{m|– 0.47 T/}{i|μ}{s|B}', 30)
];
spectraLabels.forEach((l, i) => graphics.push(txt(164, yLabelY[i], '{m|' + l + '}', 44, BROWN)));

chart.setOption({
  animation:false,
  backgroundColor:'#ffffff',
  grid:[
    {left:145, top:550, width:770, height:1155, outerBoundsMode:'none', containLabel:false},
    {left:1113, top:522, width:625, height:530, outerBoundsMode:'none', containLabel:false},
    {left:1113, top:1208, width:636, height:510, outerBoundsMode:'none', containLabel:false}
  ],
  xAxis, yAxis, series,
  graphic:{elements:graphics}
});
</script></body></html>
